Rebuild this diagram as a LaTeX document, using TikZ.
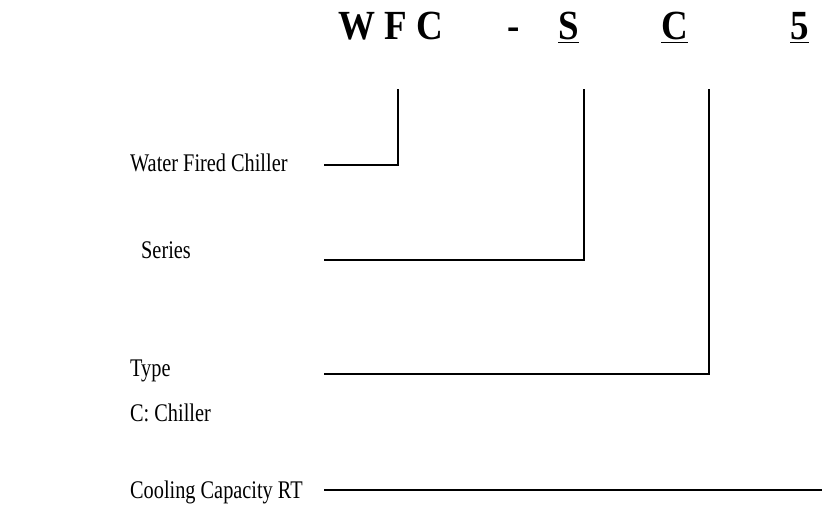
\documentclass[tikz,border=0pt]{standalone}
\usepackage{fontspec}
\setmainfont{Liberation Serif}
\newcommand{\tallx}[1]{\scalebox{1}[1.25]{#1}}
\newcommand{\talltitle}[1]{\scalebox{1}[1.12]{#1}}
\begin{document}
\begin{tikzpicture}[x=1pt,y=-1pt,
  lbl/.style={anchor=base west,inner sep=0pt,font=\fontsize{20.3}{24}\selectfont},
  ttl/.style={anchor=base west,inner sep=0pt,font=\fontsize{37}{42}\bfseries},
  conn/.style={line width=1.3pt}]
\useasboundingbox (0,0) rectangle (822,529);
% title
\node[ttl] (wfc) at (338,40) {\talltitle{W F C}};
\node[ttl] (dash) at (507,40) {\talltitle{-}};
\node[ttl] (s) at (558,40) {\talltitle{\underline{S}}};
\node[ttl] (c) at (661,40) {\talltitle{\underline{C}}};
\node[ttl] (five) at (790,40) {\talltitle{\underline{5}}};
% labels
\node[lbl] (l1) at (130,172) {\tallx{Water Fired Chiller}};
\node[lbl] (l2) at (141,259) {\tallx{Series}};
\node[lbl] (l3) at (130,376) {\tallx{Type}};
\node[lbl] (l3b) at (130,421) {\tallx{C: Chiller}};
\node[lbl] (l4) at (130,498) {\tallx{Cooling Capacity RT}};
% connector coordinates
\coordinate (t1) at (398,89);
\coordinate (t2) at (584,89);
\coordinate (t3) at (709,89);
\coordinate (e1) at (324,165);
\coordinate (e2) at (324,260);
\coordinate (e3) at (324,374);
\coordinate (e4) at (324,490);
\coordinate (e4r) at (822,490);
\draw[conn] (e1) -| (t1);
\draw[conn] (e2) -| (t2);
\draw[conn] (e3) -| (t3);
\draw[conn] (e4) -- (e4r);
\end{tikzpicture}
\end{document}
